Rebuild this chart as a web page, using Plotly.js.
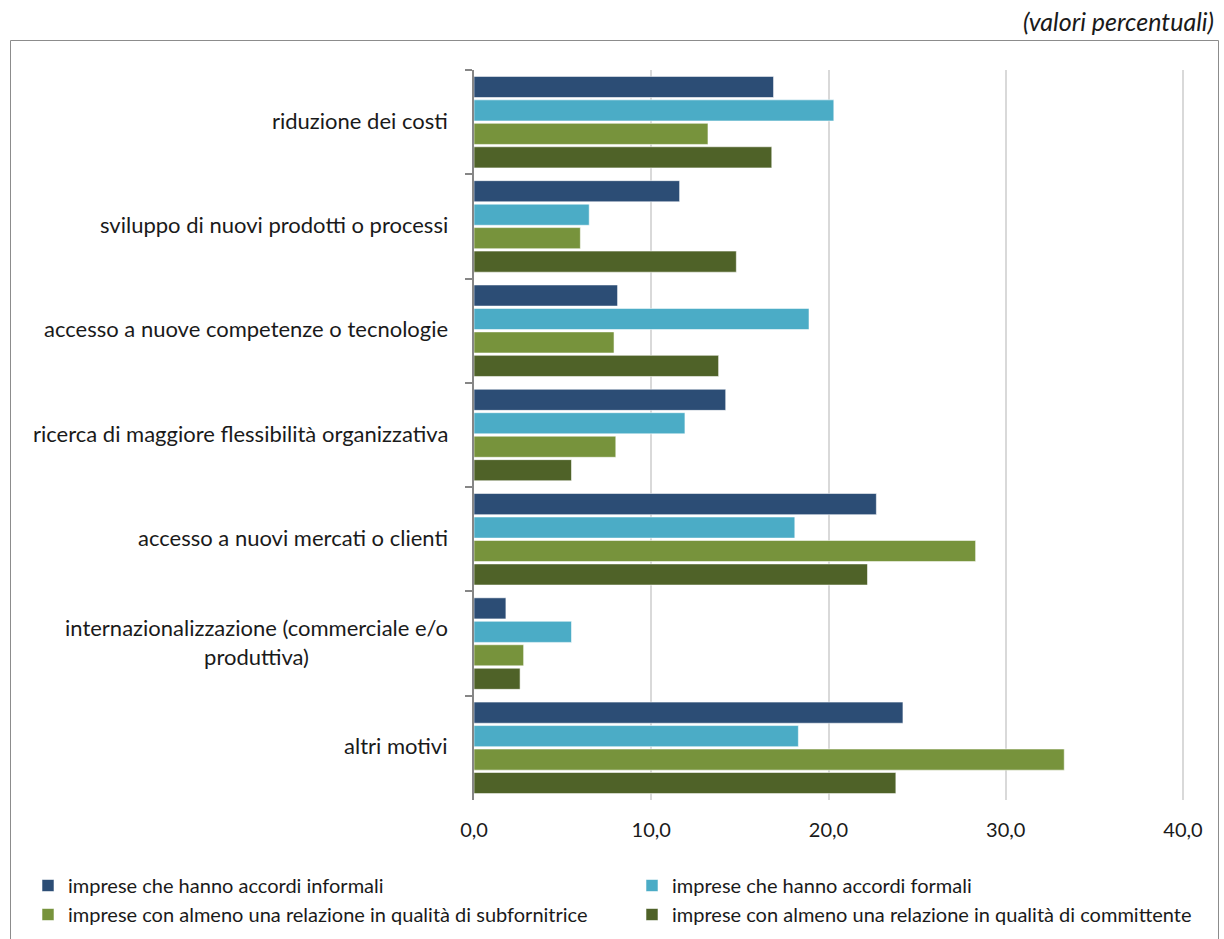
<!DOCTYPE html>
<html>
<head>
<meta charset="utf-8">
<script src="https://cdn.plot.ly/plotly-3.0.1.min.js"></script>
<style>
  html, body { margin: 0; padding: 0; background: #ffffff; }
  #chart { width: 1224px; height: 939px; }
</style>
</head>
<body>
<div id="chart"></div>
<script>
// Motivi delle relazioni tra imprese (valori percentuali)
const categories = [
  "riduzione dei costi",
  "sviluppo di nuovi prodotti o processi",
  "accesso a nuove competenze o tecnologie",
  "ricerca di maggiore flessibilità organizzativa",
  "accesso a nuovi mercati o clienti",
  "internazionalizzazione (commerciale e/o<br>produttiva)",
  "altri motivi"
];

const seriesNames = [
  "imprese che hanno accordi informali",
  "imprese che hanno accordi formali",
  "imprese con almeno una relazione in qualità di subfornitrice",
  "imprese con almeno una relazione in qualità di committente"
];

const accordiInformali = [16.9, 11.6, 8.1, 14.2, 22.7, 1.8, 24.2];
const accordiFormali   = [20.3, 6.5, 18.9, 11.9, 18.1, 5.5, 18.3];
const subfornitrice    = [13.2, 6.0, 7.9, 8.0, 28.3, 2.8, 33.3];
const committente      = [16.8, 14.8, 13.8, 5.5, 22.2, 2.6, 23.8];

const xTicks = [0, 10, 20, 30, 40];

const colors = ["#2c4d75", "#4bacc6", "#77933c", "#4f6228"];
const values = [accordiInformali, accordiFormali, subfornitrice, committente];

const traces = values.map((v, i) => ({
  type: "bar",
  orientation: "h",
  name: seriesNames[i],
  y: categories,
  x: v,
  marker: { color: colors[i], line: { color: "rgba(255,255,255,0.55)", width: 1 } },
  hoverinfo: "x+name"
}));

// Figure and plot-area geometry (pixels). The value axis runs 0–40 between
// X0 and X40; the plot area is extended to the right so the two-column legend
// has enough room, with the axis range stretched accordingly.
const FW = 1224, FH = 939;
const X0 = 474, X40 = 1183;
const L = X0, R = 1214, T = 70, B = 800;
const W = R - L, H = B - T;
const xMax = 40 * (R - X0) / (X40 - X0);
const px = x => (x - L) / W;
const py = y => (B - y) / H;

const FONT = "Lato, 'Liberation Sans', sans-serif";
const labelFont = { family: FONT, size: 22, color: "#1a1a1a" };

const annotations = categories.map(c => ({
  xref: "paper", yref: "y",
  x: 0, y: c,
  xanchor: "right", yanchor: "middle",
  xshift: -24, yshift: 2,
  align: "center",
  showarrow: false,
  text: c,
  font: labelFont
}));

const layout = {
  width: FW, height: FH,
  margin: { l: L, r: FW - R, t: T, b: FH - B, pad: 0, autoexpand: false },
  paper_bgcolor: "#ffffff",
  plot_bgcolor: "#ffffff",
  separators: ",.",
  barmode: "group",
  bargap: 0.1,
  bargroupgap: 0.1,
  title: {
    text: "<i>(valori percentuali)</i>",
    xref: "container", yref: "container",
    x: 1214 / FW, xanchor: "right",
    y: 1 - 22 / FH, yanchor: "middle",
    font: { family: FONT, size: 25, color: "#1a1a1a" }
  },
  xaxis: {
    range: [0, xMax],
    tickvals: xTicks,
    tickformat: ".1f",
    showgrid: true,
    gridcolor: "#d9d9d9",
    gridwidth: 2,
    zeroline: false,
    showline: false,
    ticks: "",
    ticklabelstandoff: 16,
    tickfont: { family: FONT, size: 20, color: "#1a1a1a" },
    fixedrange: true
  },
  yaxis: {
    type: "category",
    autorange: "reversed",
    showticklabels: false,
    showgrid: false,
    zeroline: false,
    showline: true,
    linecolor: "#868686",
    linewidth: 2,
    ticks: "outside",
    tickson: "boundaries",
    ticklen: 7,
    tickwidth: 2,
    tickcolor: "#868686",
    fixedrange: true
  },
  showlegend: true,
  legend: {
    orientation: "h",
    x: px(28), xanchor: "left",
    y: py(866), yanchor: "top",
    entrywidth: 559,
    entrywidthmode: "pixels",
    itemwidth: 30,
    traceorder: "normal",
    font: { family: FONT, size: 20, color: "#1a1a1a" },
    bgcolor: "rgba(0,0,0,0)"
  },
  annotations: annotations,
  shapes: [{
    type: "rect",
    xref: "paper", yref: "paper",
    x0: px(10.5), x1: px(1218.5),
    y0: py(950), y1: py(40.5),
    line: { color: "#8c8c8c", width: 1 },
    fillcolor: "rgba(0,0,0,0)",
    layer: "below"
  }]
};

Plotly.newPlot("chart", traces, layout, { displayModeBar: false, staticPlot: true });
</script>
</body>
</html>
